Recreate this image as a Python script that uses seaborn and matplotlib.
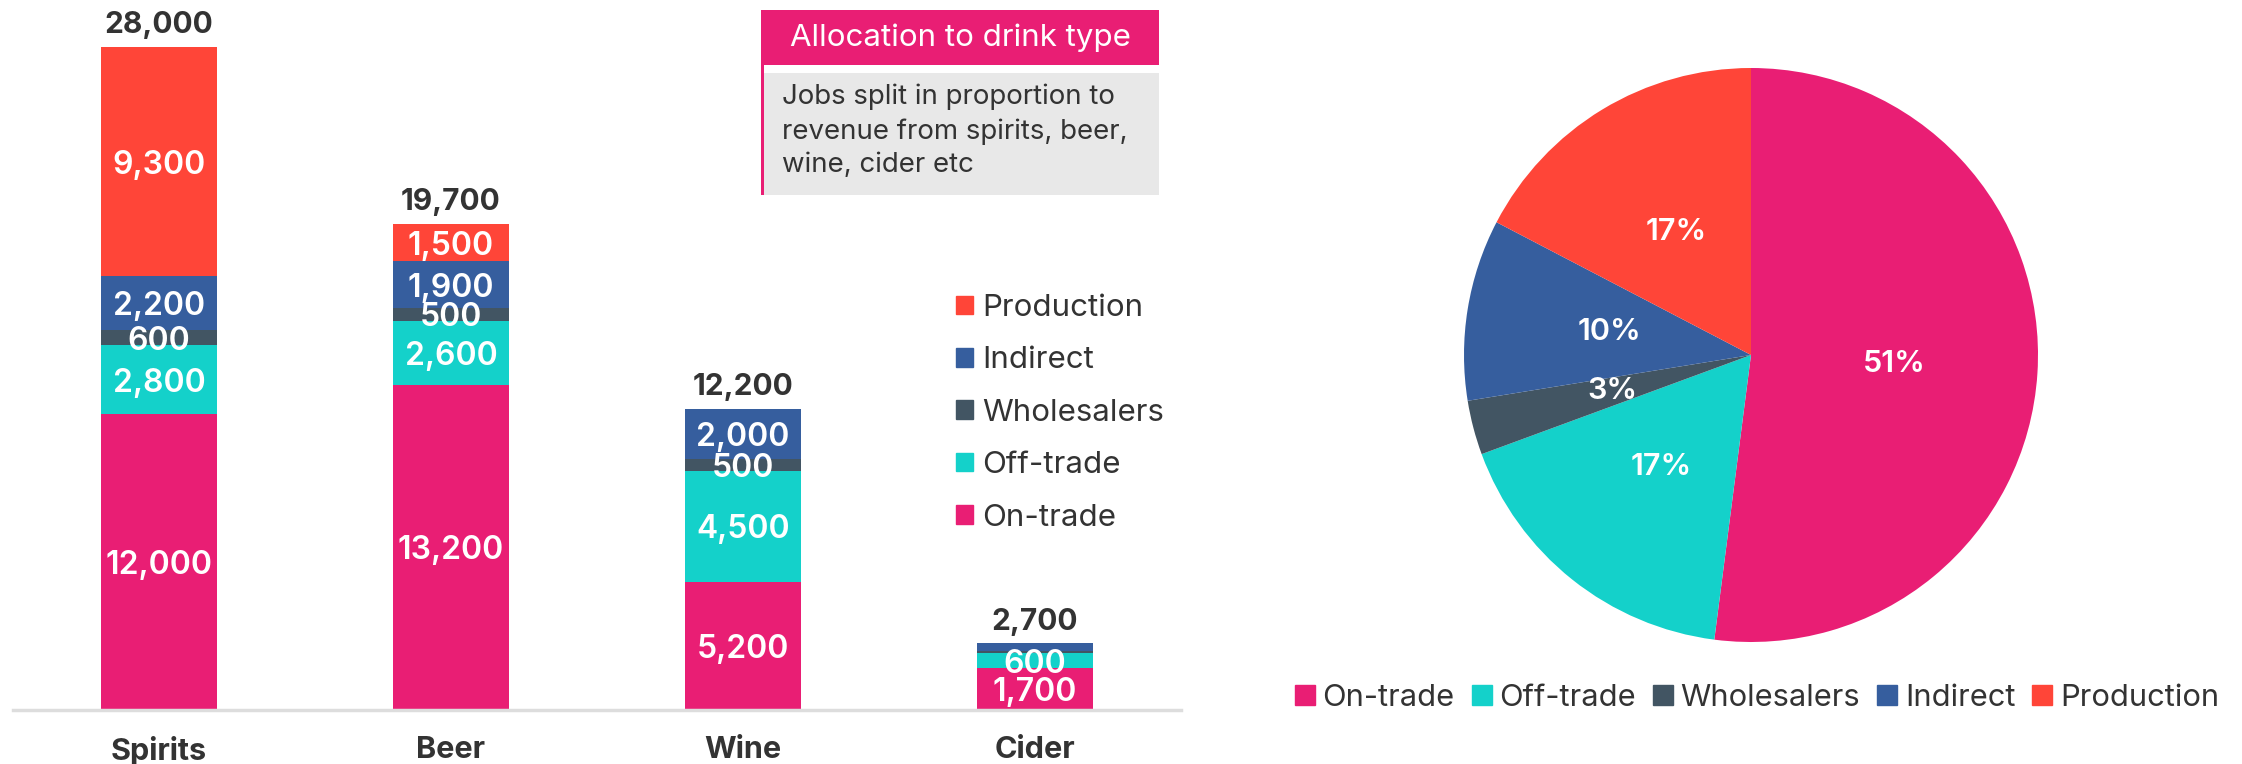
import numpy as np
import pandas as pd
import seaborn as sns
import matplotlib.pyplot as plt
from matplotlib.patches import Patch, Rectangle

# values
drinks = ["Spirits", "Beer", "Wine", "Cider"]
segments = ["On-trade", "Off-trade", "Wholesalers", "Indirect", "Production"]
on_trade = [12000, 13200, 5200, 1700]
off_trade = [2800, 2600, 4500, 600]
wholesalers = [600, 500, 500, 100]
indirect = [2200, 1900, 2000, 300]
production = [9300, 1500, 0, 0]
totals = [28000, 19700, 12200, 2700]   # labels printed above the bars

pie_share = [51, 17, 3, 10, 17]       # same order as segments

colors = {
    "On-trade": "#E91E74",
    "Off-trade": "#14D1CA",
    "Wholesalers": "#425563",
    "Indirect": "#365E9E",
    "Production": "#FF4538",
}
dark = "#333333"

sns.set_theme(style="white")
plt.rcParams["font.family"] = ["Inter", "DejaVu Sans"]

W, H = 2242, 764
fig = plt.figure(figsize=(W / 100, H / 100), dpi=100)


def px(x, y, w, h):
    # pixel box (top-left origin) -> figure fraction
    return [x / W, 1 - (y + h) / H, w / W, h / H]


# ---- stacked bars ----
df = pd.DataFrame({"drink": drinks, "On-trade": on_trade, "Off-trade": off_trade,
                   "Wholesalers": wholesalers, "Indirect": indirect,
                   "Production": production})

ax = fig.add_axes(px(13, 40, 1168, 670))
bottom = np.zeros(len(drinks))
for seg in segments:
    vals = df[seg].to_numpy(dtype=float)
    sns.barplot(data=df, x="drink", y=seg, bottom=bottom, color=colors[seg],
                width=0.4, saturation=1, errorbar=None, linewidth=0, ax=ax)
    for i, v in enumerate(vals):
        if v >= 500:
            ax.text(i, bottom[i] + v / 2, f"{int(v):,}", ha="center", va="center_baseline",
                    color="white", fontsize=23, fontweight="semibold")
    bottom += vals

for i, t in enumerate(totals):
    ax.annotate(f"{t:,}", xy=(i, bottom[i]), xytext=(0, 10), textcoords="offset points",
                ha="center", va="baseline", fontsize=21.5, fontweight="bold", color=dark,
                annotation_clip=False)

ax.set_xlim(-0.5, 3.5)
ax.set_ylim(0, 27180)
ax.set_xlabel("")
ax.set_ylabel("")
ax.set_yticks([])
ax.tick_params(axis="x", length=0, pad=19, labelsize=22, colors=dark)
for lab in ax.get_xticklabels():
    lab.set_fontweight("bold")
for s in ["top", "right", "left"]:
    ax.spines[s].set_visible(False)
ax.spines["bottom"].set_color("#dddddd")
ax.spines["bottom"].set_linewidth(2.5)

fig.legend(handles=[Patch(color=colors[s], label=s) for s in segments[::-1]],
           loc="upper left", bbox_to_anchor=(956 / W, 1 - 294 / H), frameon=False,
           fontsize=22.5, labelcolor=dark, labelspacing=0.78, handlelength=0.55,
           handleheight=0.55, handletextpad=0.3, borderpad=0, borderaxespad=0)

# ---- note box ----
fig.add_artist(Rectangle(px(761, 10, 398, 55)[:2], 398 / W, 55 / H,
                         transform=fig.transFigure, color=colors["On-trade"], lw=0))
fig.add_artist(Rectangle(px(761, 73, 398, 122)[:2], 398 / W, 122 / H,
                         transform=fig.transFigure, color="#e8e8e8", lw=0))
fig.add_artist(Rectangle(px(761, 65, 3, 130)[:2], 3 / W, 130 / H,
                         transform=fig.transFigure, color=colors["On-trade"], lw=0))
fig.text(960 / W, 1 - 38 / H, "Allocation to drink type", ha="center", va="center",
         color="white", fontsize=22.5)
fig.text(782 / W, 1 - 84 / H, "Jobs split in proportion to\nrevenue from spirits, beer,\nwine, cider etc",
         ha="left", va="top", color=dark, fontsize=19.9, linespacing=1.37)

# ---- pie ----
pax = fig.add_axes(px(1464, 68, 574, 574))
wedges, _, autotexts = pax.pie(pie_share, colors=[colors[s] for s in segments],
                               startangle=90, counterclock=False, autopct="%d",
                               pctdistance=0.5, wedgeprops=dict(linewidth=0),
                               textprops=dict(color="white", fontsize=22, fontweight="semibold"))
for t, v in zip(autotexts, pie_share):
    t.set_text(f"{v}%")
pax.set_xlim(-1, 1)
pax.set_ylim(-1, 1)

fig.legend(handles=[Patch(color=colors[s], label=s) for s in segments],
           loc="center", bbox_to_anchor=(1757 / W, 1 - 698 / H), ncol=5, frameon=False,
           fontsize=22.2, labelcolor=dark, handlelength=0.65, handleheight=0.65,
           handletextpad=0.25, columnspacing=0.55, borderpad=0, borderaxespad=0)

fig.savefig("out.png", dpi=100)
